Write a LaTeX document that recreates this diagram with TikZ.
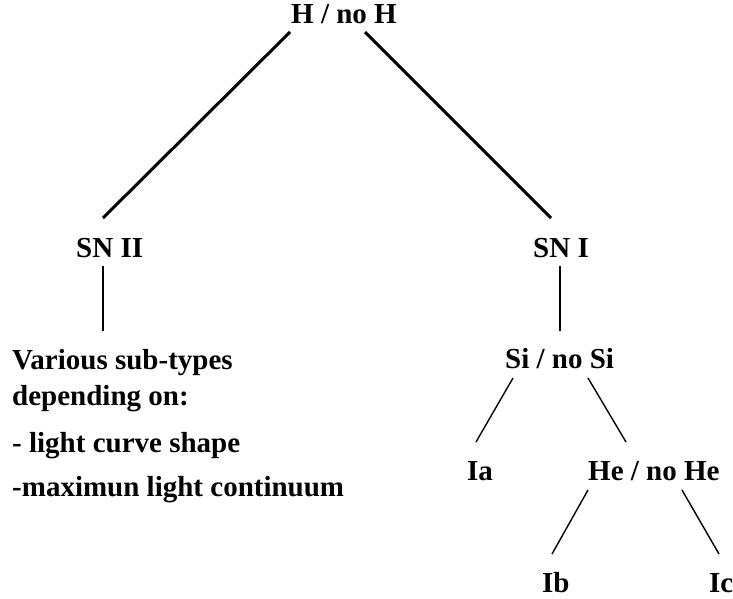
\documentclass[tikz,border=0pt]{standalone}
\usepackage{fontspec}
\setmainfont{Liberation Serif}
\begin{document}
\begin{tikzpicture}[x=1pt,y=-1pt,
  lbl/.style={anchor=base west,inner sep=0pt,font=\fontsize{29}{34}\selectfont\bfseries},
  thickline/.style={line width=3pt},
  thinline/.style={line width=1.4pt}]
\useasboundingbox (0,0) rectangle (733,599);
\node[lbl] (h) at (291,24) {H / no H};
\node[lbl] (sn2) at (76,257) {SN II};
\node[lbl] (sn1) at (533,257) {SN I};
\node[lbl] (v1) at (12,369) {Various sub-types};
\node[lbl] (v2) at (12,405) {depending on:};
\node[lbl] (v3) at (12,452) {- light curve shape};
\node[lbl] (v4) at (12,496) {-maximun light continuum};
\node[lbl] (si) at (505,368) {Si / no Si};
\node[lbl] (ia) at (467,480) {Ia};
\node[lbl] (he) at (588,480) {He / no He};
\node[lbl] (ib) at (542,592) {Ib};
\node[lbl] (ic) at (709,592) {Ic};
\draw[thickline] ([xshift=-1pt,yshift=-8pt]h.base west) -- ([xshift=27pt,yshift=39pt]sn2.base west);
\draw[thickline] ([xshift=74pt,yshift=-8pt]h.base west) -- ([xshift=18pt,yshift=39pt]sn1.base west);
\draw[thinline] ([xshift=27pt,yshift=-9pt]sn2.base west) -- ([xshift=91pt,yshift=38pt]v1.base west);
\draw[thinline] ([xshift=27pt,yshift=-9pt]sn1.base west) -- ([xshift=55pt,yshift=37pt]si.base west);
\draw[thinline] ([xshift=8pt,yshift=-10pt]si.base west) -- ([xshift=9pt,yshift=38pt]ia.base west);
\draw[thinline] ([xshift=83pt,yshift=-10pt]si.base west) -- ([xshift=38pt,yshift=38pt]he.base west);
\draw[thinline] ([xshift=0pt,yshift=-10pt]he.base west) -- ([xshift=10pt,yshift=38pt]ib.base west);
\draw[thinline] ([xshift=94pt,yshift=-10pt]he.base west) -- ([xshift=10pt,yshift=38pt]ic.base west);
\end{tikzpicture}
\end{document}
